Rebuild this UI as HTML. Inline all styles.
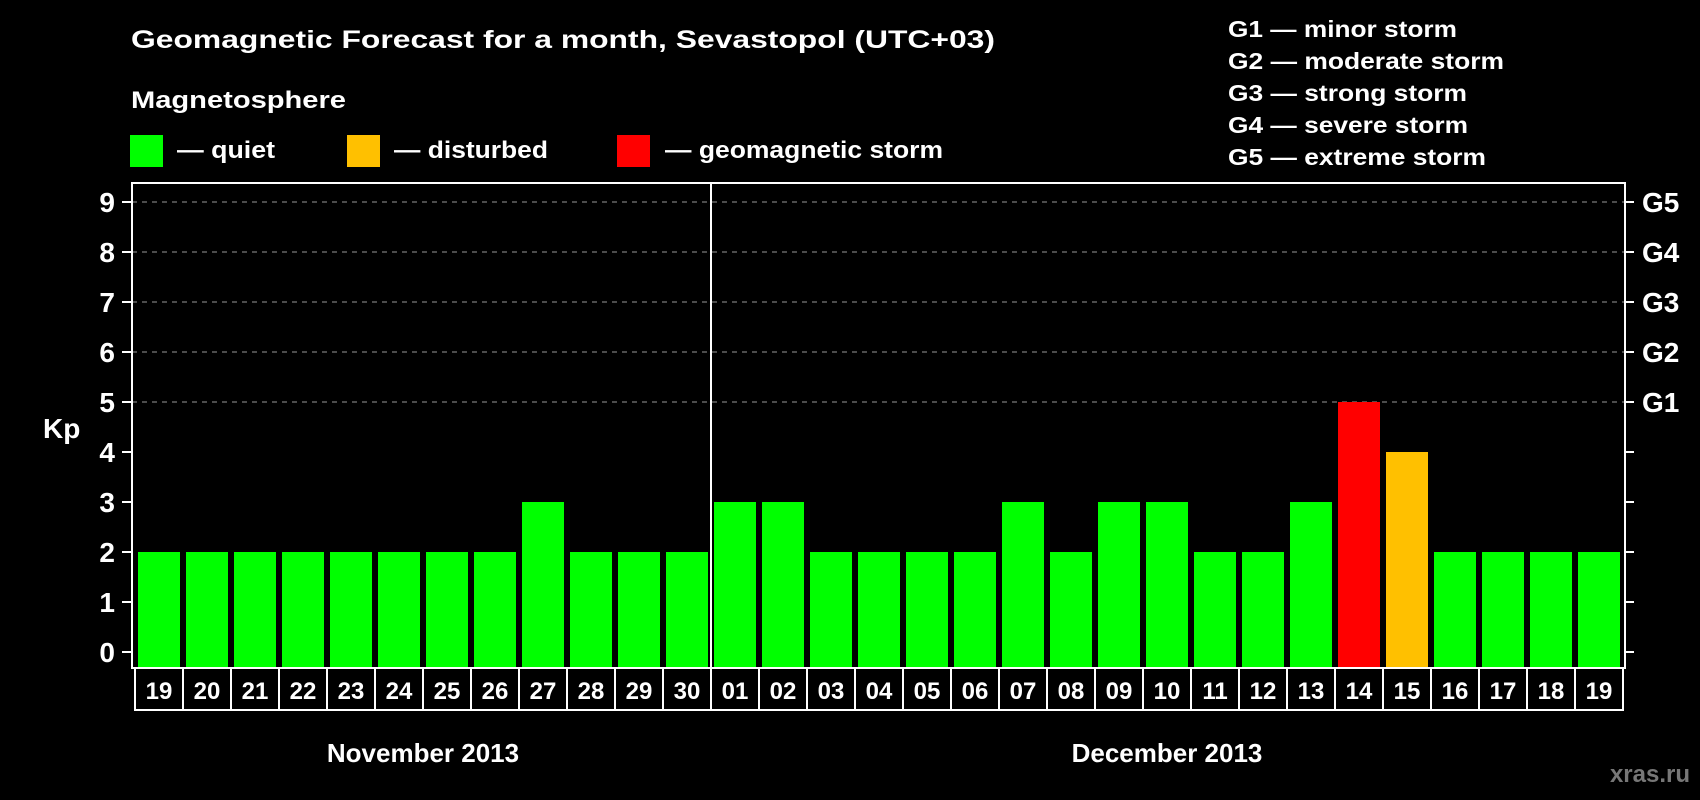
<!DOCTYPE html>
<html><head><meta charset="utf-8"><style>
html,body{margin:0;padding:0;background:#000;}
svg{display:block;font-family:"Liberation Sans",sans-serif;font-weight:bold;}
</style></head><body>
<svg id="chart" width="1700" height="800" viewBox="0 0 1700 800">
<rect x="0" y="0" width="1700" height="800" fill="#000"/>
<text x="131" y="48" fill="#fff" font-size="25" textLength="864" lengthAdjust="spacingAndGlyphs">Geomagnetic Forecast for a month, Sevastopol (UTC+03)</text>
<text x="131" y="108" fill="#fff" font-size="24" textLength="215" lengthAdjust="spacingAndGlyphs">Magnetosphere</text>
<g>
<rect x="130" y="135" width="33" height="32" fill="#00ff00"/>
<text x="177" y="158" fill="#fff" font-size="24" textLength="98" lengthAdjust="spacingAndGlyphs">— quiet</text>
</g>
<g>
<rect x="347" y="135" width="33" height="32" fill="#ffc000"/>
<text x="394" y="158" fill="#fff" font-size="24" textLength="154" lengthAdjust="spacingAndGlyphs">— disturbed</text>
</g>
<g>
<rect x="617" y="135" width="33" height="32" fill="#ff0000"/>
<text x="665" y="158" fill="#fff" font-size="24" textLength="278" lengthAdjust="spacingAndGlyphs">— geomagnetic storm</text>
</g>
<g fill="#fff" font-size="23">
<text x="1228" y="37" textLength="229" lengthAdjust="spacingAndGlyphs">G1 — minor storm</text>
<text x="1228" y="69" textLength="276" lengthAdjust="spacingAndGlyphs">G2 — moderate storm</text>
<text x="1228" y="101" textLength="239" lengthAdjust="spacingAndGlyphs">G3 — strong storm</text>
<text x="1228" y="133" textLength="240" lengthAdjust="spacingAndGlyphs">G4 — severe storm</text>
<text x="1228" y="165" textLength="258" lengthAdjust="spacingAndGlyphs">G5 — extreme storm</text>
</g>
<text x="43" y="438" fill="#fff" font-size="28">Kp</text>
<g id="grid"></g>
<g id="bars"></g>
<g id="frame"></g>
<text x="423" y="762" fill="#fff" font-size="26" text-anchor="middle">November 2013</text>
<text x="1167" y="762" fill="#fff" font-size="26" text-anchor="middle">December 2013</text>
<text x="1690" y="782" fill="#777" font-size="24" text-anchor="end">xras.ru</text>
</svg>
<script>
const dayLabels = ["19","20","21","22","23","24","25","26","27","28","29","30","01","02","03","04","05","06","07","08","09","10","11","12","13","14","15","16","17","18","19"];
const kpValues = [2,2,2,2,2,2,2,2,3,2,2,2,3,3,2,2,2,2,3,2,3,3,2,2,3,5,4,2,2,2,2];
const yTicks = [0,1,2,3,4,5,6,7,8,9];
const gLevels = [5,6,7,8,9];
const gLabels = ["G1","G2","G3","G4","G5"];
const monthSplitIndex = 12;

const NS = "http://www.w3.org/2000/svg";
const plotL = 132, plotR = 1625, plotT = 183, plotB = 668;
const cellL = 135, cellW = 48, rowB = 710;
function yScale(v){ return 652 - v * 50; }
function xScale(i){ return cellL + i * cellW; }
function mk(tag, attrs, parent){ const e = document.createElementNS(NS, tag); for (const k in attrs) e.setAttribute(k, attrs[k]); parent.appendChild(e); return e; }
function colorFor(v){ return v >= 5 ? "#ff0000" : (v >= 4 ? "#ffc000" : "#00ff00"); }

const grid = document.getElementById("grid");
const bars = document.getElementById("bars");
const frame = document.getElementById("frame");

yTicks.forEach(function(t){
  const y = yScale(t);
  const tk = mk("line", {x1:122, x2:plotL, y1:y, y2:y, stroke:"#fff", "stroke-width":2}, grid);
  
  
  const tr = mk("line", {x1:plotR, x2:plotR+9, y1:y, y2:y, stroke:"#fff", "stroke-width":2}, grid);
  
  
  const lb = mk("text", {x:115, y:y+10, fill:"#fff", "font-size":28, "text-anchor":"end"}, grid);
  lb.textContent = t;
  
  
});
gLevels.forEach(function(v, i){
  const y = yScale(v);
  const gl = mk("line", {x1:plotL, x2:plotR, y1:y, y2:y, stroke:"#999", "stroke-width":1, "stroke-dasharray":"5,5"}, grid);
  
  
  const lb = mk("text", {x:1642, y:y+10, fill:"#fff", "font-size":28}, grid);
  lb.textContent = gLabels[i];
  
  
});

kpValues.forEach(function(v, i){
  const x = xScale(i);
  const b = mk("rect", {x:x+3, y:yScale(v), width:42, height:plotB - yScale(v), fill:colorFor(v)}, bars);
  
  
  const c = mk("rect", {x:x, y:plotB, width:cellW, height:rowB-plotB, fill:"none", stroke:"#fff", "stroke-width":2}, frame);
  
  
  const t = mk("text", {x:x+cellW/2, y:plotB+31, fill:"#fff", "font-size":24, "text-anchor":"middle"}, frame);
  t.textContent = dayLabels[i];
  
  
});

const fr = mk("rect", {x:plotL, y:plotT, width:plotR-plotL, height:plotB-plotT, fill:"none", stroke:"#fff", "stroke-width":2}, frame);


const sx = xScale(monthSplitIndex);
const sep = mk("line", {x1:sx, x2:sx, y1:plotT, y2:rowB, stroke:"#fff", "stroke-width":2}, frame);


</script>
</body></html>
